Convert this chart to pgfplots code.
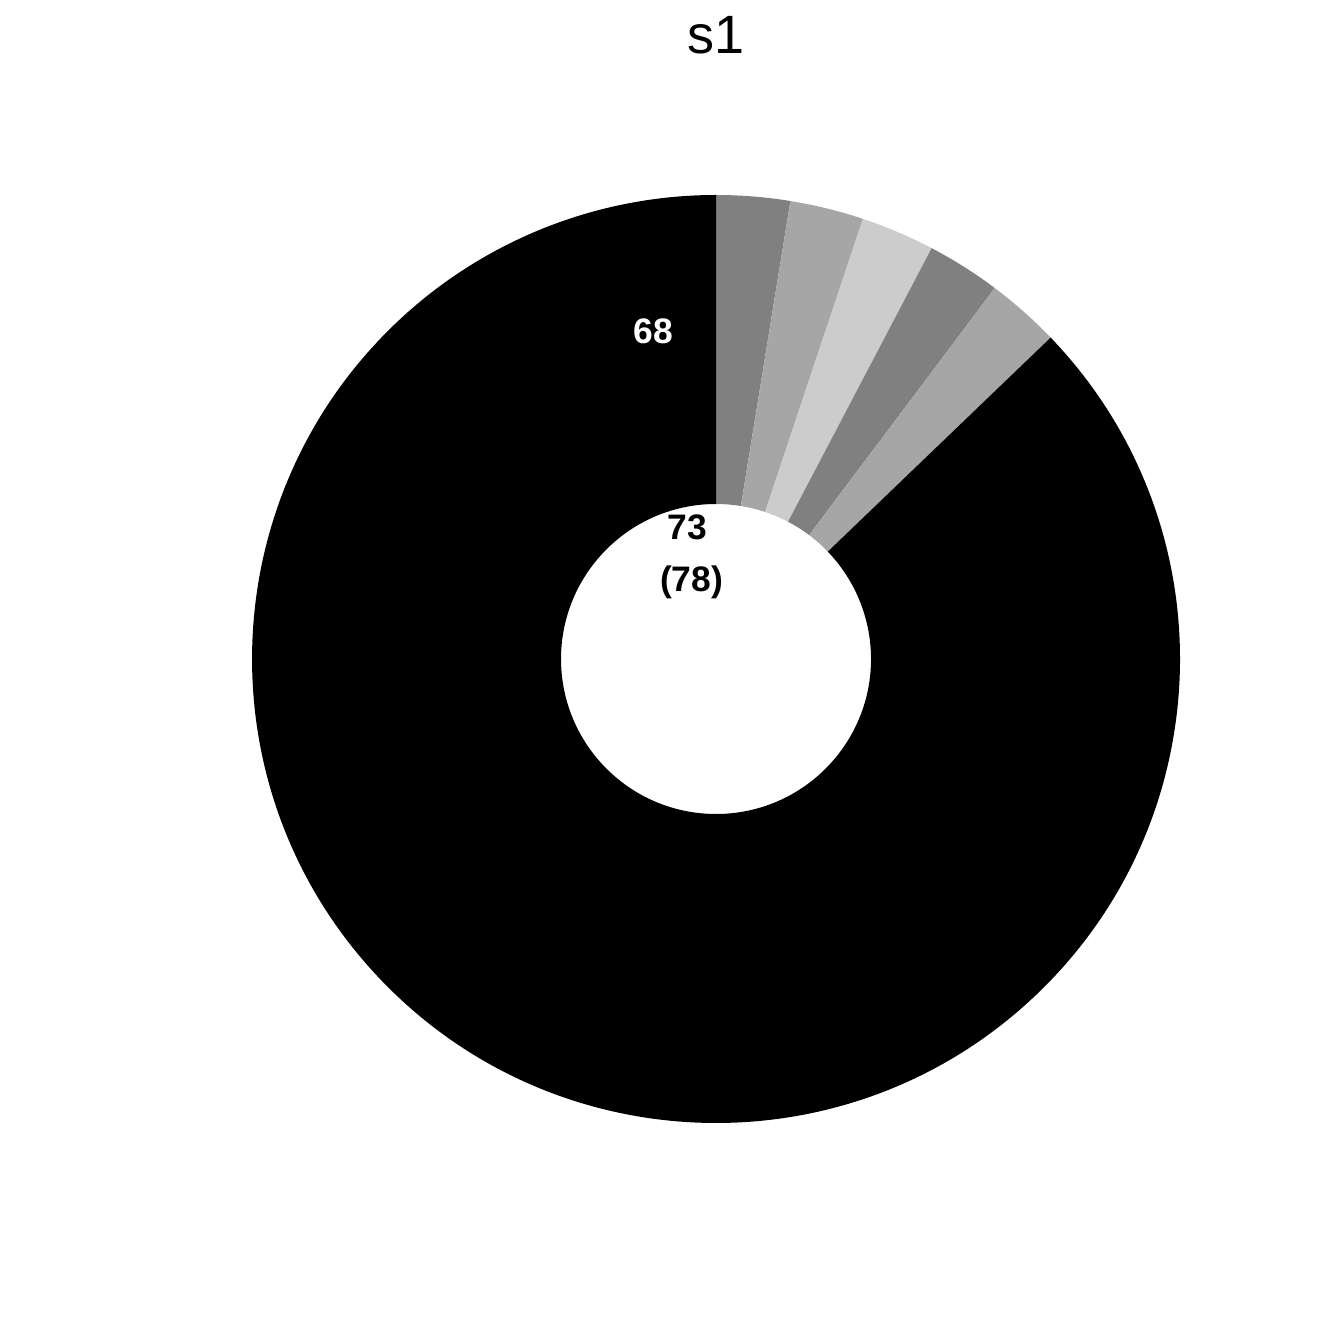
\documentclass[border=0pt]{standalone}
\usepackage{fontspec}
\setmainfont{Liberation Sans}
\usepackage{pgfplots}
\usepackage{pgfplotstable}
\pgfplotsset{compat=1.18}

\definecolor{g1}{RGB}{128,128,128}
\definecolor{g2}{RGB}{166,166,166}
\definecolor{g3}{RGB}{204,204,204}
\definecolor{g0}{RGB}{0,0,0}

% slices clockwise from 12 o'clock
\pgfplotstableread{
name value color
a 2 g1
b 2 g2
c 2 g3
d 2 g1
e 2 g2
f 68 g0
}\slices

\begin{document}
\begin{tikzpicture}
\begin{axis}[
  name=ax,
  scale only axis,
  width=14cm, height=14cm,
  xmin=-1.5431, xmax=1.3534,
  ymin=-1.4763, ymax=1.4203,
  hide axis,
  clip=false,
]
\pgfplotstablegetrowsof{\slices}
\pgfmathtruncatemacro\nrows{\pgfplotsretval-1}
\def\total{0}
\pgfplotsforeachungrouped \i in {0,...,\nrows}{%
  \pgfplotstablegetelem{\i}{value}\of\slices
  \pgfmathsetmacro\total{\total+\pgfplotsretval}%
}
\def\cum{0}
\def\Ro{4.8333cm}% outer radius, axis unit 1
\def\Ri{1.6146cm}% inner radius
\def\ri{0.33405}
\pgfplotsforeachungrouped \i in {0,...,\nrows}{%
  \pgfplotstablegetelem{\i}{value}\of\slices \let\v\pgfplotsretval
  \pgfplotstablegetelem{\i}{color}\of\slices \let\c\pgfplotsretval
  \pgfmathsetmacro\aa{90-\cum/\total*360}%
  \pgfmathsetmacro\cum{\cum+\v}%
  \pgfmathsetmacro\ab{90-\cum/\total*360}%
  \edef\temp{\noexpand\fill[\c] (axis cs:{cos(\aa)},{sin(\aa)})
    arc[start angle=\aa, end angle=\ab, radius=\Ro]
    -- (axis cs:{\ri*cos(\ab)},{\ri*sin(\ab)})
    arc[start angle=\ab, end angle=\aa, radius=\Ri] -- cycle;}%
  \temp
}
\node[anchor=base, font=\fontsize{16}{19}\selectfont] at (axis cs:0,1.306) {s1};
\node[anchor=base, text=white, font=\fontsize{10.5}{12}\selectfont\bfseries] at (axis cs:-0.1358,0.679) {68};
\node[anchor=base, font=\fontsize{10.5}{12}\selectfont\bfseries] at (axis cs:-0.0625,0.2565) {73};
\node[anchor=base, font=\fontsize{10.5}{12}\selectfont\bfseries] at (axis cs:-0.0528,0.1444) {(78)};
\end{axis}
\path (ax.south west) rectangle (ax.north east);
\end{tikzpicture}
\end{document}
